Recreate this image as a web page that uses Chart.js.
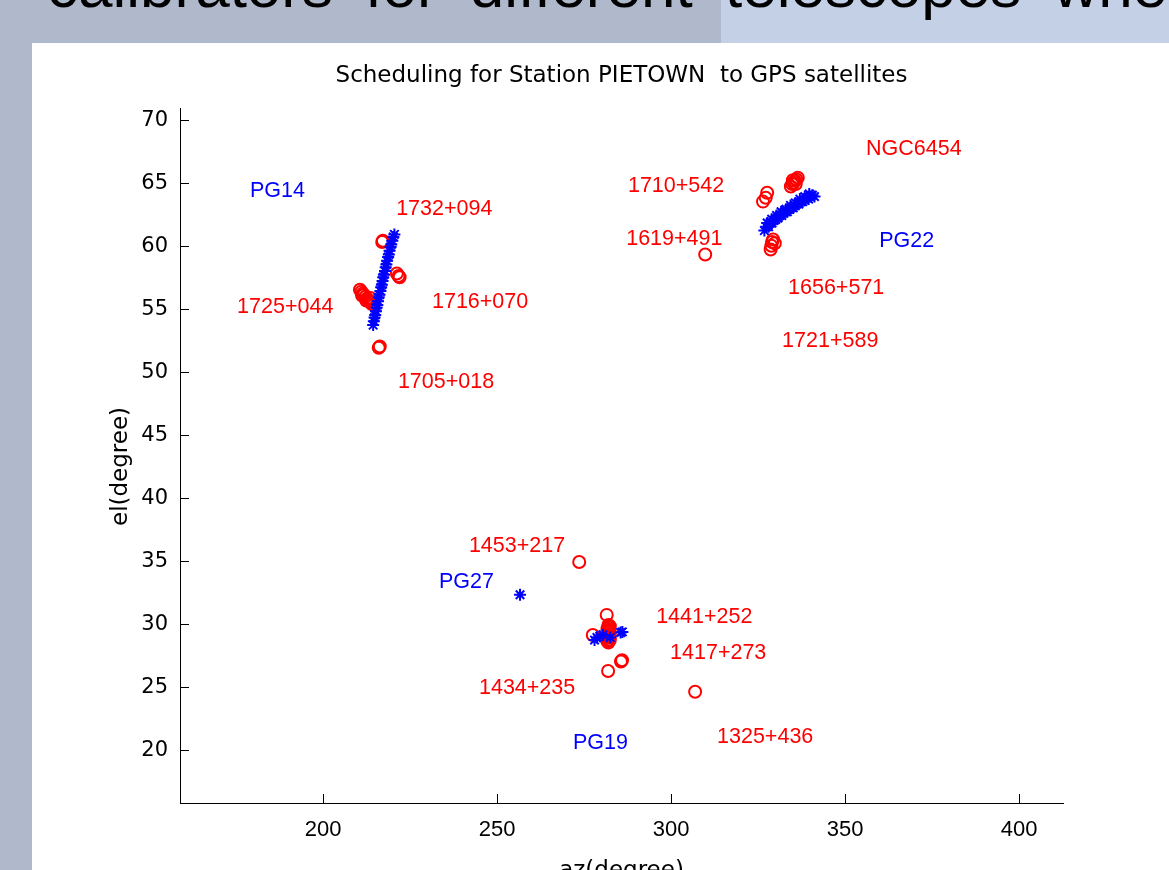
<!DOCTYPE html>
<html>
<head>
<meta charset="utf-8">
<script src="https://cdn.jsdelivr.net/npm/chart.js@4"></script>
<style>
  html, body { margin: 0; padding: 0; overflow: hidden; }
  body { width: 1169px; height: 870px; position: relative; background: #b0b8cc; font-family: "Liberation Sans", Arial, sans-serif; }
  #band-right { position: absolute; left: 721px; top: 0; width: 448px; height: 43px; background: #c4d0e6; }
  #panel { position: absolute; left: 32px; top: 43px; right: 0; bottom: 0; background: #fff; }
  #heading { position: absolute; left: 47px; top: -45px; font-size: 62px; line-height: 62px; white-space: nowrap; word-spacing: 15px; color: #000; }
  #wrap { position: absolute; left: 0; top: 0; width: 1169px; height: 900px; }
</style>
</head>
<body>
<div id="band-right"></div>
<div id="heading">calibrators for different telescopes whe</div>
<div id="panel"></div>
<div id="wrap"><canvas id="myChart"></canvas></div>
<script>
// axis ticks
const xTicks = [200, 250, 300, 350, 400]
const yTicks = [20, 25, 30, 35, 40, 45, 50, 55, 60, 65, 70]

// GPS satellite tracks (az, el)
const pg14Az = [214.4, 214.6, 214.8, 215.0, 215.2, 215.4, 215.6, 215.8, 216.0, 216.2, 216.5, 216.7, 216.9, 217.1,
  217.3, 217.5, 217.8, 218.0, 218.2, 218.4, 218.7, 218.9, 219.1, 219.4, 219.6, 219.9, 220.2, 220.5]
const pg14El = [53.8, 54.1, 54.4, 54.6, 54.9, 55.2, 55.4, 55.7, 56.0, 56.2, 56.5, 56.8, 57.0, 57.3,
  57.6, 57.8, 58.1, 58.4, 58.6, 58.9, 59.2, 59.4, 59.7, 60.0, 60.2, 60.5, 60.8, 61.0]
const pg22Az = [326.8, 327.4, 328.0, 328.5, 329.0, 329.6, 330.1, 330.7, 331.2, 331.8, 332.3, 332.9, 333.4, 334.0,
  334.5, 335.1, 335.6, 336.2, 336.7, 337.3, 337.8, 338.4, 338.9, 339.5, 340.0, 340.6, 341.2,
  327.6, 328.9, 330.3, 331.6, 333.0, 334.3, 335.7, 337.0, 338.4, 339.7]
const pg22El = [61.3, 61.6, 61.6, 61.9, 61.9, 62.1, 62.2, 62.3, 62.5, 62.5, 62.7, 62.8, 62.8, 63.0,
  63.1, 63.1, 63.3, 63.4, 63.4, 63.6, 63.6, 63.7, 63.9, 63.8, 64.0, 64.1, 64.0,
  61.9, 62.2, 62.5, 62.8, 63.0, 63.3, 63.5, 63.8, 64.0, 64.2]
const pg27Az = [256.6]
const pg27El = [32.4]
const pg19Az = [278.0, 278.7, 279.5, 280.4, 282.5, 285.5, 286.0]
const pg19El = [28.8, 29.0, 29.1, 29.2, 29.0, 29.4, 29.45]

// calibrator sources (az, el)
const calAz = [217.0, 217.2, 221.2, 221.7, 222.0,
  210.6, 211.0, 211.4, 211.8, 212.2, 212.6, 213.0, 213.4, 213.8, 214.1, 211.2, 212.4, 213.6,
  216.0, 216.3,
  326.4, 327.6, 327.2, 334.4, 334.8, 335.2, 335.6, 336.0, 336.4, 335.0, 335.8,
  329.3, 328.8, 329.8, 328.6, 329.0, 309.8,
  273.6, 281.5, 282.0, 282.0, 282.0, 282.0, 282.0, 282.0, 282.0, 282.0, 282.4, 282.4, 282.4,
  281.7, 281.7, 281.7, 282.3, 282.3,
  277.5, 285.9, 285.6, 281.9, 306.9]
const calEl = [60.4, 60.5, 57.9, 57.7, 57.6,
  56.6, 56.45, 56.3, 56.2, 56.05, 55.9, 55.8, 55.7, 55.55, 55.45, 56.15, 55.75, 55.95,
  52.0, 52.1,
  63.6, 64.3, 63.9, 64.8, 65.0, 65.1, 65.25, 65.35, 65.5, 65.3, 65.0,
  60.6, 60.1, 60.3, 59.8, 60.4, 59.4,
  35.0, 30.8, 30.0, 29.8, 29.6, 29.4, 29.2, 29.0, 28.8, 28.6, 29.9, 29.3, 28.8,
  29.7, 29.1, 28.7, 29.5, 29.0,
  29.2, 27.2, 27.1, 26.35, 24.7]

// text labels (left edge, middle)
const labelText = ['PG14', '1732+094', '1725+044', '1716+070', '1705+018', '1710+542', 'NGC6454', '1619+491', 'PG22',
  '1656+571', '1721+589', '1453+217', 'PG27', '1441+252', '1417+273', '1434+235', 'PG19', '1325+436']
const labelAz = [179.0, 221.0, 175.3, 231.3, 221.5, 287.6, 356.0, 287.1, 359.8,
  333.6, 331.9, 241.9, 233.3, 295.7, 299.7, 244.8, 271.8, 313.2]
const labelEl = [64.4, 63.0, 55.2, 55.6, 49.3, 64.8, 67.8, 60.6, 60.5,
  56.75, 52.5, 36.3, 33.4, 30.6, 27.8, 25.0, 20.6, 21.1]
const labelColor = ['#0000ff', '#ff0000', '#ff0000', '#ff0000', '#ff0000', '#ff0000', '#ff0000', '#ff0000', '#0000ff',
  '#ff0000', '#ff0000', '#ff0000', '#0000ff', '#ff0000', '#ff0000', '#ff0000', '#0000ff', '#ff0000']

function toPoints(xs, ys) {
  return xs.map((x, i) => ({x: x, y: ys[i]}))
}

const satPoints = toPoints(pg14Az, pg14El)
  .concat(toPoints(pg22Az, pg22El))
  .concat(toPoints(pg27Az, pg27El))
  .concat(toPoints(pg19Az, pg19El))

const textLabels = {
  id: 'textLabels',
  afterDatasetsDraw(chart) {
    const ctx = chart.ctx
    const xs = chart.scales.x
    const ys = chart.scales.y
    ctx.save()
    ctx.font = '21.5px "Liberation Sans", Arial, sans-serif'
    ctx.textAlign = 'left'
    ctx.textBaseline = 'middle'
    labelText.forEach((t, i) => {
      ctx.fillStyle = labelColor[i]
      ctx.fillText(t, xs.getPixelForValue(labelAz[i]), ys.getPixelForValue(labelEl[i]))
    })
    ctx.restore()
  }
}

const wide = '"DejaVu Sans", sans-serif'
const narrow = '"Liberation Sans", Arial, sans-serif'

const ctx = document.getElementById('myChart')
new Chart(ctx, {
  type: 'scatter',
  data: {
    datasets: [{
      label: 'GPS',
      data: satPoints,
      pointStyle: 'star',
      pointRadius: 6,
      borderColor: '#0000ff',
      backgroundColor: '#0000ff',
      pointBorderWidth: 2
    }, {
      label: 'calibrators',
      data: toPoints(calAz, calEl),
      pointStyle: 'circle',
      pointRadius: 6,
      borderColor: '#ff0000',
      backgroundColor: 'rgba(0,0,0,0)',
      pointBorderWidth: 2
    }]
  },
  options: {
    responsive: true,
    maintainAspectRatio: false,
    animation: false,
    layout: { padding: { top: 43, left: 0, right: 106, bottom: 0 } },
    plugins: {
      legend: { display: false },
      tooltip: { enabled: false },
      title: {
        display: true,
        fullSize: false,
        text: 'Scheduling for Station PIETOWN  to GPS satellites',
        color: '#000',
        font: { family: wide, size: 23, weight: 'normal' },
        padding: { top: 19, bottom: 18.4 }
      }
    },
    scales: {
      x: {
        type: 'linear',
        min: 158.9,
        max: 412.6,
        afterBuildTicks: axis => { axis.ticks = xTicks.map(v => ({value: v})) },
        afterFit: axis => { axis.height = 97 },
        grid: { drawOnChartArea: false, tickLength: -9, tickColor: '#000', tickWidth: 1 },
        border: { display: true, color: '#000', width: 1 },
        ticks: { color: '#000', padding: 23, font: { family: narrow, size: 22 } },
        title: {
          display: true,
          text: 'az(degree)',
          color: '#000',
          font: { family: wide, size: 23 },
          padding: { top: 0, bottom: 15 }
        }
      },
      y: {
        type: 'linear',
        min: 15.87,
        max: 71.03,
        afterBuildTicks: axis => { axis.ticks = yTicks.map(v => ({value: v})) },
        afterFit: axis => { axis.width = 180 },
        grid: { drawOnChartArea: false, tickLength: -9, tickColor: '#000', tickWidth: 1 },
        border: { display: true, color: '#000', width: 1 },
        ticks: { color: '#000', padding: 21, font: { family: wide, size: 21 } },
        title: {
          display: true,
          text: 'el(degree)   ',
          color: '#000',
          font: { family: wide, size: 23 },
          padding: { top: 107, bottom: 0 }
        }
      }
    }
  },
  plugins: [textLabels]
})
</script>
</body>
</html>
